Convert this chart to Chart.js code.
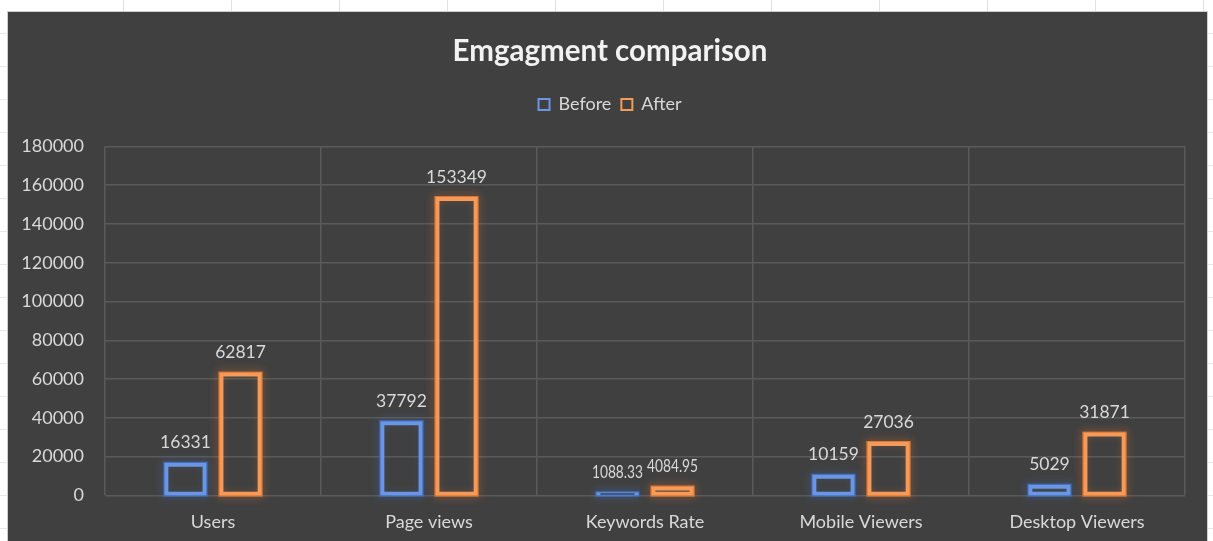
<!DOCTYPE html>
<html>
<head>
<meta charset="utf-8">
<script src="https://cdn.jsdelivr.net/npm/chart.js@4.4.1/dist/chart.umd.min.js"></script>
<style>
  html, body { margin: 0; padding: 0; }
  body {
    width: 1213px; height: 541px; overflow: hidden; background-color: #ffffff;
    background-image:
      repeating-linear-gradient(90deg, transparent 0 107px, #e2e2e2 107px 108px),
      repeating-linear-gradient(180deg, transparent 0 32px, #e8e8e8 32px 33px);
    background-position: 16px 0, 0 1px;
  }
  #wrap {
    position: absolute; left: 8px; top: 12px; width: 1199px; height: 529px;
    background: #404040; box-shadow: 0 0 0 1px #cfcfcf;
  }
</style>
</head>
<body>
<div id="wrap"><canvas id="chart"></canvas></div>
<script>
// data
const categories = ['Users', 'Page views', 'Keywords Rate', 'Mobile Viewers', 'Desktop Viewers'];
const beforeValues = [16331, 37792, 1088.33, 10159, 5029];
const afterValues = [62817, 153349, 4084.95, 27036, 31871];
const yTicks = [0, 20000, 40000, 60000, 80000, 100000, 120000, 140000, 160000, 180000];

const FONT = 'Lato, "Open Sans", sans-serif';
const TEXT = '#d9d9d9';
const GLOW = ['rgba(68,114,196,0.9)', 'rgba(237,125,49,0.9)'];

// glow round the bars (chart.js clips its own border, so draw the halo under it)
const glowPlugin = {
    id: 'glow',
    beforeDatasetDraw(chart, args) {
        const ctx = chart.ctx;
        ctx.save();
        ctx.shadowColor = GLOW[args.index];
        ctx.shadowBlur = 9;
        ctx.strokeStyle = GLOW[args.index];
        ctx.lineWidth = 2;
        args.meta.data.forEach(bar => {
            const p = bar.getProps(['x', 'y', 'base', 'width']);
            const top = Math.min(p.y, p.base) - 1;
            const h = Math.abs(p.base - p.y) + 2;
            ctx.strokeRect(p.x - p.width / 2 - 1, top, p.width + 2, h);
        });
        ctx.restore();
    }
};

// value labels above the bars
const labelPlugin = {
    id: 'valueLabels',
    afterDatasetsDraw(chart) {
        const ctx = chart.ctx;
        ctx.save();
        ctx.font = '17.5px ' + FONT;
        ctx.fillStyle = TEXT;
        ctx.textAlign = 'center';
        ctx.textBaseline = 'middle';
        chart.data.datasets.forEach((ds, i) => {
            chart.getDatasetMeta(i).data.forEach((bar, j) => {
                const txt = String(ds.data[j]);
                if (txt.includes('.')) {
                    ctx.fillText(txt, bar.x, bar.y - 21, 51);
                } else {
                    ctx.fillText(txt, bar.x, bar.y - 21);
                }
            });
        });
        ctx.restore();
    }
};

const barStyle = {
    backgroundColor: 'rgba(0,0,0,0)',
    borderWidth: 2,
    borderSkipped: false,
    inflateAmount: 1,
    categoryPercentage: 0.51,
    barPercentage: 0.73
};

new Chart(document.getElementById('chart'), {
    type: 'bar',
    data: {
        labels: categories,
        datasets: [
            Object.assign({ label: 'Before', data: beforeValues, borderColor: '#6a96e4' }, barStyle),
            Object.assign({ label: 'After', data: afterValues, borderColor: '#f59a58' }, barStyle)
        ]
    },
    options: {
        responsive: true,
        maintainAspectRatio: false,
        animation: false,
        layout: { padding: { left: 5, right: 0, top: 14, bottom: -8 } },
        plugins: {
            title: {
                display: true,
                text: 'Emgagment comparison',
                color: '#f2f2f2',
                font: { family: FONT, size: 29.5, weight: 'bold' },
                padding: { top: 8, bottom: 16 }
            },
            legend: {
                display: true,
                position: 'top',
                labels: {
                    color: TEXT,
                    font: { family: FONT, size: 18 },
                    boxWidth: 11,
                    boxHeight: 11,
                    padding: 10
                }
            },
            // spacer between legend and plot
            subtitle: {
                display: true,
                text: '',
                weight: 500,
                font: { size: 23, lineHeight: 1 },
                padding: 0
            },
            tooltip: { enabled: false }
        },
        scales: {
            x: {
                grid: { color: '#5a5a5a', lineWidth: 1.5, drawTicks: false },
                border: { display: false },
                ticks: { color: TEXT, font: { family: FONT, size: 18 }, padding: 16 }
            },
            y: {
                min: 0,
                max: 180000,
                afterFit(scale) { scale.width = 92; },
                afterBuildTicks(scale) { scale.ticks = yTicks.map(v => ({ value: v })); },
                grid: { color: '#5a5a5a', lineWidth: 1.5, drawTicks: false },
                border: { display: false },
                ticks: {
                    color: TEXT,
                    font: { family: FONT, size: 18 },
                    padding: 21,
                    callback: v => String(v)
                }
            },
            // empty axis that keeps a margin on the right of the plot
            yRight: {
                position: 'right',
                afterFit(scale) { scale.width = 22; },
                grid: { display: false },
                border: { display: false },
                ticks: { display: false }
            }
        }
    },
    plugins: [glowPlugin, labelPlugin]
});
</script>
</body>
</html>
